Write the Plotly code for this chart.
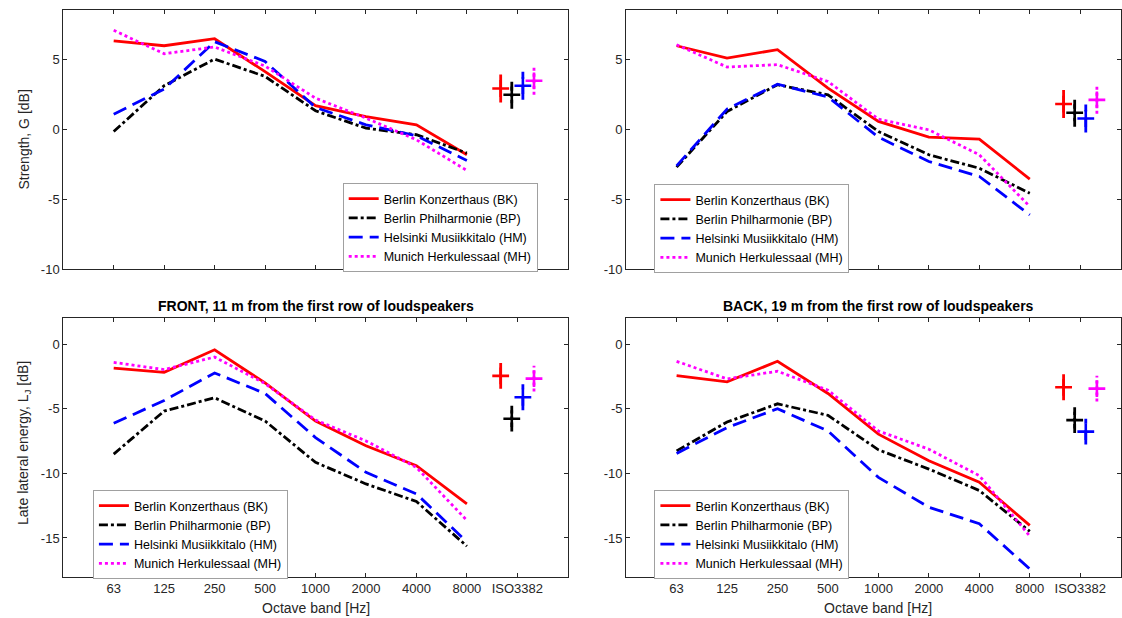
import plotly.graph_objects as go

# ---------------- data ----------------
bands = ["63", "125", "250", "500", "1000", "2000", "4000", "8000"]
iso_label = "ISO3382"
halls = ["Berlin Konzerthaus (BK)", "Berlin Philharmonie (BP)",
         "Helsinki Musiikkitalo (HM)", "Munich Herkulessaal (MH)"]

# Strength G, FRONT
G_front_BK = [6.3, 5.95, 6.45, 4.1, 1.67, 0.9, 0.31, -1.83]
G_front_BP = [-0.17, 3.1, 5.0, 3.76, 1.31, 0.07, -0.4, -1.71]
G_front_HM = [1.07, 2.86, 6.24, 4.83, 1.55, 0.31, -0.48, -2.24]
G_front_MH = [7.05, 5.38, 5.86, 4.5, 2.21, 0.79, -0.76, -2.95]
G_front_iso = [2.9, 2.45, 3.1, 3.45]

# Strength G, BACK
G_back_BK = [5.95, 5.07, 5.67, 2.93, 0.55, -0.57, -0.71, -3.57]
G_back_BP = [-2.71, 1.26, 3.17, 2.45, -0.17, -1.83, -2.79, -4.57]
G_back_HM = [-2.62, 1.43, 3.21, 2.29, -0.57, -2.31, -3.38, -6.12]
G_back_MH = [6.02, 4.43, 4.6, 3.4, 0.71, -0.05, -1.83, -5.52]
G_back_iso = [1.79, 1.17, 0.76, 2.09]

# Late lateral energy LJ, FRONT
LJ_front_BK = [-1.85, -2.18, -0.44, -3.0, -5.95, -7.87, -9.41, -12.36]
LJ_front_BP = [-8.51, -5.18, -4.15, -5.95, -9.15, -10.82, -12.18, -15.64]
LJ_front_HM = [-6.13, -4.36, -2.23, -3.82, -7.23, -9.92, -11.59, -15.3]
LJ_front_MH = [-1.41, -1.97, -1.0, -3.05, -5.87, -7.49, -9.54, -13.64]
LJ_front_iso = [-2.46, -5.77, -4.11, -2.67]

# Late lateral energy LJ, BACK
LJ_back_BK = [-2.44, -2.92, -1.33, -3.82, -6.97, -9.03, -10.69, -14.03]
LJ_back_BP = [-8.26, -6.03, -4.62, -5.51, -8.18, -9.67, -11.33, -14.49]
LJ_back_HM = [-8.46, -6.46, -5.0, -6.72, -10.31, -12.62, -13.9, -17.4]
LJ_back_MH = [-1.33, -2.69, -2.1, -3.56, -6.72, -8.13, -10.18, -14.85]
LJ_back_iso = [-3.34, -5.88, -6.77, -3.44]

jnd_G = 1.0   # just noticeable difference, dB
jnd_LJ = 1.0

# ---------------- style ----------------
FONT = "Liberation Sans, Arial, Helvetica, sans-serif"
colors = ["#ff0000", "#000000", "#0000ff", "#ff00ff"]
dashes = ["solid", "9px,3px,3px,3px", "14px,7px", "3px,3px"]
iso_offsets = [-0.33, -0.11, 0.11, 0.33]
REF_W, REF_H = 1122, 618      # reference picture size (positions below are in its pixels)
FIG_W, FIG_H = 1122, 626
LW = 2.8
STEP = 50.5                  # px per octave band


def px_x(p):
    return p / REF_W


def px_y(p):
    return 1 - p / REF_H


panels = [
    dict(series=[G_front_BK, G_front_BP, G_front_HM, G_front_MH], iso=G_front_iso, jnd=jnd_G,
         xd=[px_x(63.3), px_x(568.3)], yd=[px_y(269.3), px_y(10)], xr=[0, 10], yr=[-10, 8.5],
         yt=[-10, -5, 0, 5], legend_pos=(343, 183), labels=False),
    dict(series=[G_back_BK, G_back_BP, G_back_HM, G_back_MH], iso=G_back_iso, jnd=jnd_G,
         xd=[px_x(626.7), 1.0], yd=[px_y(269.3), px_y(10)], xr=[0, (REF_W - 626.7) / STEP],
         yr=[-10, 8.5], yt=[-10, -5, 0, 5], legend_pos=(655, 184), labels=False),
    dict(series=[LJ_front_BK, LJ_front_BP, LJ_front_HM, LJ_front_MH], iso=LJ_front_iso, jnd=jnd_LJ,
         xd=[px_x(63.3), px_x(568.3)], yd=[px_y(576.7), px_y(318.3)], xr=[0, 10], yr=[-18, 2],
         yt=[-15, -10, -5, 0], legend_pos=(93, 490), labels=True),
    dict(series=[LJ_back_BK, LJ_back_BP, LJ_back_HM, LJ_back_MH], iso=LJ_back_iso, jnd=jnd_LJ,
         xd=[px_x(626.7), 1.0], yd=[px_y(576.7), px_y(318.3)], xr=[0, (REF_W - 626.7) / STEP],
         yr=[-18, 2], yt=[-15, -10, -5, 0], legend_pos=(655, 490), labels=True),
]

fig = go.Figure()
band_pos = list(range(1, len(bands) + 1))
iso_pos = len(bands) + 1

layout = dict(width=FIG_W, height=FIG_H, margin=dict(l=0, r=0, t=0, b=0),
              paper_bgcolor="white", plot_bgcolor="white",
              font=dict(family=FONT, size=13, color="#262626"), showlegend=True)

for i, p in enumerate(panels):
    n = i + 1
    xa = "x" if n == 1 else f"x{n}"
    ya = "y" if n == 1 else f"y{n}"
    lg = "legend" if n == 1 else f"legend{n}"
    for k in range(4):
        fig.add_trace(go.Scatter(
            x=band_pos, y=p["series"][k], mode="lines", name=halls[k],
            line=dict(color=colors[k], width=LW, dash=dashes[k]),
            xaxis=xa, yaxis=ya, legend=lg, showlegend=True))
    for k in range(4):
        xc = iso_pos + iso_offsets[k]
        v = p["iso"][k]
        fig.add_trace(go.Scatter(
            x=[xc, xc], y=[v - p["jnd"], v + p["jnd"]], mode="lines",
            line=dict(color=colors[k], width=LW, dash=dashes[k]),
            xaxis=xa, yaxis=ya, showlegend=False, hoverinfo="skip"))
        fig.add_trace(go.Scatter(
            x=[xc], y=[v], mode="markers",
            marker=dict(symbol="cross-thin", size=12, color=colors[k],
                        line=dict(color=colors[k], width=2.6)),
            xaxis=xa, yaxis=ya, showlegend=False))

    axkey = "xaxis" if n == 1 else f"xaxis{n}"
    aykey = "yaxis" if n == 1 else f"yaxis{n}"
    layout[axkey] = dict(
        domain=p["xd"], range=p["xr"], anchor=ya,
        tickvals=band_pos + [iso_pos], ticktext=bands + [iso_label],
        showticklabels=p["labels"], ticks="inside", ticklen=4, tickwidth=1,
        tickcolor="#262626", showline=True, linecolor="#262626", linewidth=1,
        mirror="ticks", showgrid=False, zeroline=False,
        tickfont=dict(size=13, color="#262626", family=FONT))
    layout[aykey] = dict(
        domain=p["yd"], range=p["yr"], anchor=xa,
        tickvals=p["yt"], ticktext=[str(t) for t in p["yt"]],
        ticks="inside", ticklen=4, tickwidth=1, tickcolor="#262626",
        showline=True, linecolor="#262626", linewidth=1, mirror="ticks",
        showgrid=False, zeroline=False,
        tickfont=dict(size=13, color="#262626", family=FONT))
    lx, ly = p["legend_pos"]
    layout[lg] = dict(x=px_x(lx), y=px_y(ly), xanchor="left", yanchor="top",
                      bgcolor="white", bordercolor="#a0a0a0", borderwidth=1,
                      font=dict(size=12.5, color="#000000", family=FONT),
                      itemwidth=30, tracegroupgap=0)

fig.update_layout(**layout)

annotations = [
    dict(text="<b>FRONT, 11 m from the first row of loudspeakers</b>", x=px_x(315.8), y=px_y(306),
         font=dict(size=14, color="#000000")),
    dict(text="<b>BACK, 19 m from the first row of loudspeakers</b>", x=px_x(879), y=px_y(306),
         font=dict(size=14, color="#000000")),
    dict(text="Octave band [Hz]", x=px_x(315.8), y=px_y(608), font=dict(size=14, color="#262626")),
    dict(text="Octave band [Hz]", x=px_x(879), y=px_y(608), font=dict(size=14, color="#262626")),
    dict(text="Strength, G [dB]", x=px_x(24), y=px_y(139.6), textangle=-90,
         font=dict(size=14, color="#262626")),
    dict(text="Late lateral energy, L<sub>J</sub> [dB]", x=px_x(24), y=px_y(443), textangle=-90,
         font=dict(size=14, color="#262626")),
]
for a in annotations:
    a.update(xref="paper", yref="paper", showarrow=False, xanchor="center", yanchor="middle")
fig.update_layout(annotations=annotations)

# remove the default page margin so the figure starts at the top-left corner
page_js = (
    "var de=document.documentElement, b=document.body;"
    "de.style.margin='0';de.style.padding='0';de.style.overflow='hidden';"
    "b.style.margin='0';b.style.padding='0';b.style.overflow='hidden';"
)

fig.write_html(
    "out.html",
    config={"displayModeBar": False},
    post_script=page_js,
)
